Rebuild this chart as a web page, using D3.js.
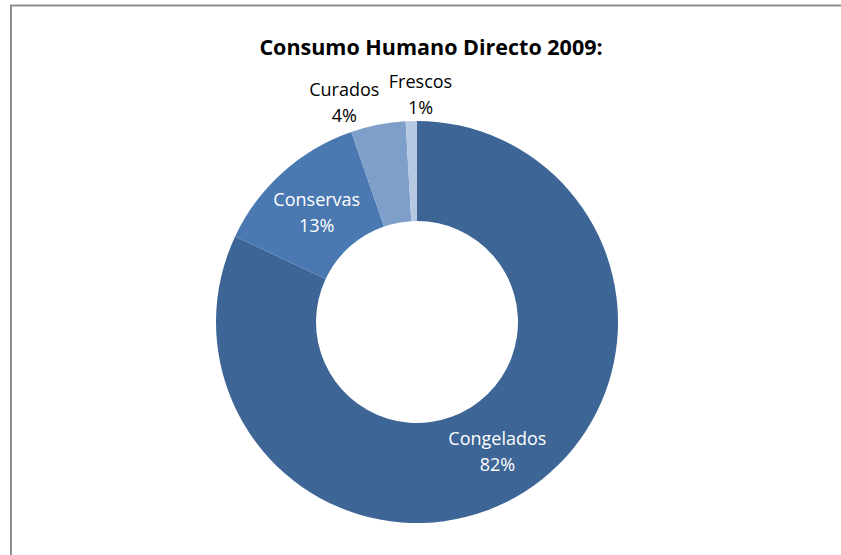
<!DOCTYPE html>
<html>
<head>
<meta charset="utf-8">
<script src="https://d3js.org/d3.v7.min.js"></script>
<style>
  body { margin: 0; background: #fff; }
  text { font-family: "Open Sans", sans-serif; }
</style>
</head>
<body>
<script>
// data
var categories = ["Congelados", "Conservas", "Curados", "Frescos"];
var shares = [82.0, 12.7, 4.4, 0.9];
var pctLabels = ["82%", "13%", "4%", "1%"];
var colors = ["#3d6596", "#4a78b0", "#7f9fcb", "#b6c8e2"];

var width = 841, height = 555;
var cx = 417, cy = 322, outerR = 201, innerR = 101;

var svg = d3.select("body").append("svg")
  .attr("width", width).attr("height", height);

// chart frame (only top and left edges are in view)
svg.append("path")
  .attr("d", "M11,560 L11,5.5 L845,5.5")
  .attr("fill", "none")
  .attr("stroke", "#8e8e8e")
  .attr("stroke-width", 2);

svg.append("text")
  .attr("x", 431).attr("y", 55)
  .attr("text-anchor", "middle")
  .style("font-size", "21.5px")
  .style("font-weight", "bold")
  .text("Consumo Humano Directo 2009:");

var pie = d3.pie().sort(null).value(function(d){ return d; });
var arcs = pie(shares);

var arc = d3.arc().innerRadius(innerR).outerRadius(outerR);
var labelArc = d3.arc().innerRadius(150).outerRadius(150);
var outArc = d3.arc().innerRadius(231).outerRadius(231);

var g = svg.append("g").attr("transform", "translate(" + cx + "," + cy + ")");

g.selectAll("path").data(arcs).enter().append("path")
  .attr("d", arc)
  .attr("fill", function(d, i){ return colors[i]; });

// small slices get their labels outside, nudged like Excel does
var outside = [false, false, true, true];
var nudgeX = [0, 0, -28, 10];
var nudgeY = [0, 0, 5, 1];

arcs.forEach(function(d, i){
  var p = outside[i] ? outArc.centroid(d) : labelArc.centroid(d);
  var x = p[0] + nudgeX[i], y = p[1] + nudgeY[i];
  var t = g.append("text")
    .attr("text-anchor", "middle")
    .attr("fill", outside[i] ? "#000" : "#fff")
    .style("font-size", "18px");
  t.append("tspan").attr("x", x).attr("y", y - 4).text(categories[i]);
  t.append("tspan").attr("x", x).attr("y", y + 22).text(pctLabels[i]);
});
</script>
</body>
</html>
